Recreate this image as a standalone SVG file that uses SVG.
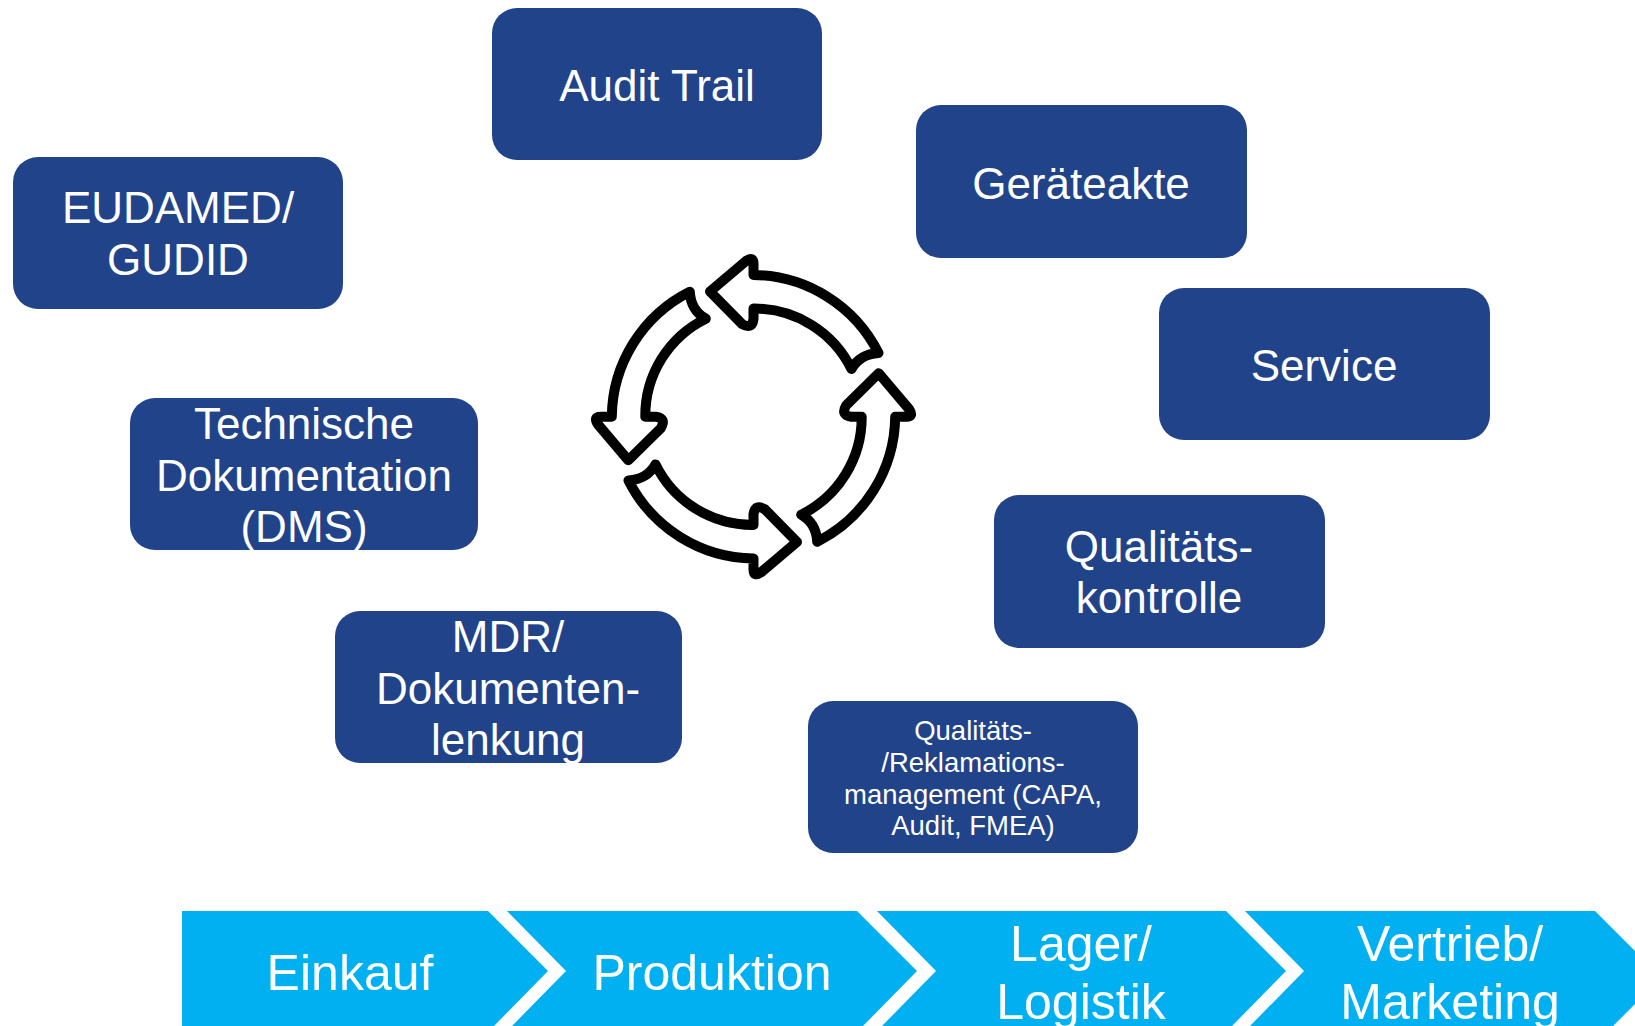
<svg xmlns="http://www.w3.org/2000/svg" xmlns:xlink="http://www.w3.org/1999/xlink" width="1635" height="1026" viewBox="0 0 1635 1026">
<style>
text{font-family:"Liberation Sans",Arial,sans-serif;fill:#fff;text-anchor:middle}
.b{fill:#21438A}
.n text{font-size:44px}
.s text{font-size:27.5px}
.c{fill:#00B0F0}
.c+text,.t text{font-size:50px}
.a{fill:none;stroke:#000;stroke-width:10;stroke-linejoin:round;stroke-linecap:round}
</style>
<defs>
<path id="arr" class="a" d="M710 291.500L746 261Q753.500 256 753.500 264V275A141.700 141.700 0 0 1 878.500 353Q860 354 851.500 369A108.300 108.300 0 0 0 753.500 308.500V319Q752 330 742 324Z"/>
</defs>
<g id="cycle">
<use xlink:href="#arr" href="#arr"/>
<use xlink:href="#arr" href="#arr" transform="rotate(90 753.500 416.700)"/>
<use xlink:href="#arr" href="#arr" transform="rotate(180 753.500 416.700)"/>
<use xlink:href="#arr" href="#arr" transform="rotate(270 753.500 416.700)"/>
</g>
<g id="audit" class="n"><rect class="b" x="492" y="8" width="330" height="152" rx="25"/><text x="657" y="101">Audit Trail</text></g>
<g id="geraeteakte" class="n"><rect class="b" x="916" y="105" width="331" height="153" rx="25"/><text x="1081" y="199">Geräteakte</text></g>
<g id="service" class="n"><rect class="b" x="1159" y="288" width="331" height="152" rx="25"/><text x="1324" y="381">Service</text></g>
<g id="qk" class="n"><rect class="b" x="994" y="495" width="331" height="153" rx="25"/><text x="1159" y="562">Qualitäts-</text><text x="1159" y="613">kontrolle</text></g>
<g id="qr" class="s"><rect class="b" x="808" y="701" width="330" height="152" rx="25"/><text x="973" y="740">Qualitäts-</text><text x="973" y="772">/Reklamations-</text><text x="973" y="804">management (CAPA,</text><text x="973" y="835">Audit, FMEA)</text></g>
<g id="mdr" class="n"><rect class="b" x="335" y="611" width="347" height="152" rx="25"/><text x="508" y="652">MDR/</text><text x="508" y="704">Dokumenten-</text><text x="508" y="755">lenkung</text></g>
<g id="tech" class="n"><rect class="b" x="130" y="398" width="348" height="152" rx="25"/><text x="304" y="439">Technische</text><text x="304" y="491">Dokumentation</text><text x="304" y="542">(DMS)</text></g>
<g id="eudamed" class="n"><rect class="b" x="13" y="157" width="330" height="152" rx="25"/><text x="178" y="223">EUDAMED/</text><text x="178" y="275">GUDID</text></g>
<g id="einkauf" class="t"><path class="c" d="M182 911H488L548 971L494 1026H182Z"/><text x="350" y="990">Einkauf</text></g>
<g id="produktion" class="t"><path class="c" d="M507 911H857L917 971L863 1026H512L566 971Z"/><text x="712" y="990">Produktion</text></g>
<g id="lager" class="t"><path class="c" d="M877 911H1226L1286 971L1232 1026H882L936 971Z"/><text x="1081" y="961">Lager/</text><text x="1081" y="1019">Logistik</text></g>
<g id="vertrieb" class="t"><path class="c" d="M1245 911H1595L1635 951V1004L1613 1026H1250L1304 971Z"/><text x="1450" y="961">Vertrieb/</text><text x="1450" y="1019">Marketing</text></g>
</svg>
